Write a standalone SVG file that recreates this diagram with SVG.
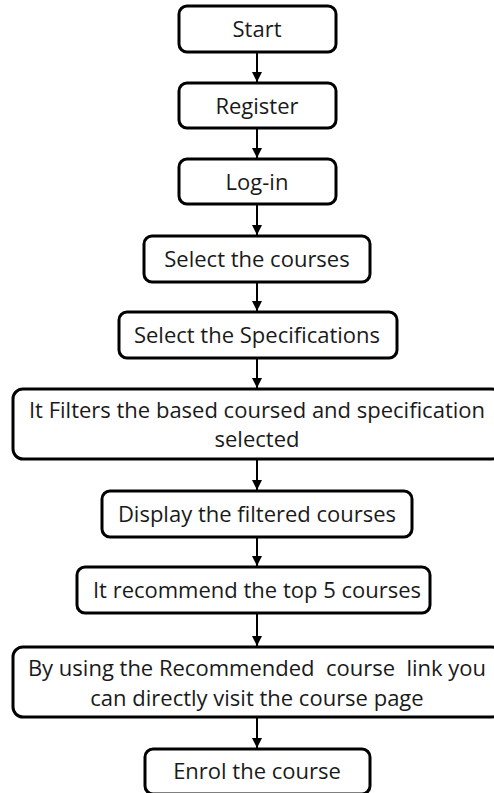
<svg xmlns="http://www.w3.org/2000/svg" width="494" height="793" viewBox="0 0 494 793">
  <style>
    .box { fill: #ffffff; stroke: #000000; stroke-width: 3; }
    .lbl { font-family: "Open Sans", "Noto Sans", "Liberation Sans", sans-serif; font-size: 22px; fill: #1a1a1a; text-anchor: middle; white-space: pre; }
    .flow { stroke: #000000; stroke-width: 2; fill: none; marker-end: url(#head); }
  </style>
  <defs>
    <marker id="head" viewBox="0 0 10 10" refX="10" refY="5" markerWidth="5" markerHeight="5" orient="auto" markerUnits="strokeWidth">
      <path d="M0,0 L10,5 L0,10 z" fill="#000000"/>
    </marker>
  </defs>
  <rect width="494" height="793" fill="#ffffff"/>

  <g id="connectors">
    <line class="flow" x1="257" y1="52" x2="257" y2="82"/>
    <line class="flow" x1="257" y1="128" x2="257" y2="158"/>
    <line class="flow" x1="257" y1="204" x2="257" y2="235"/>
    <line class="flow" x1="257" y1="282" x2="257" y2="311"/>
    <line class="flow" x1="257" y1="358" x2="257" y2="388"/>
    <line class="flow" x1="257" y1="459" x2="257" y2="490"/>
    <line class="flow" x1="257" y1="537" x2="257" y2="566"/>
    <line class="flow" x1="257" y1="613" x2="257" y2="646"/>
    <line class="flow" x1="257" y1="717" x2="257" y2="748"/>
  </g>

  <g id="start">
    <rect class="box" x="179" y="6" width="157" height="46" rx="8"/>
    <text class="lbl" x="257" y="37">Start</text>
  </g>
  <g id="register">
    <rect class="box" x="179" y="83" width="157" height="45" rx="8"/>
    <text class="lbl" x="257" y="114">Register</text>
  </g>
  <g id="login">
    <rect class="box" x="179" y="159" width="157" height="45" rx="8"/>
    <text class="lbl" x="257" y="190">Log-in</text>
  </g>
  <g id="select-courses">
    <rect class="box" x="144" y="236" width="226" height="46" rx="8"/>
    <text class="lbl" x="257" y="267">Select the courses</text>
  </g>
  <g id="select-specs">
    <rect class="box" x="119" y="312" width="278" height="46" rx="8"/>
    <text class="lbl" x="257" y="343">Select the Specifications</text>
  </g>
  <g id="filter">
    <rect class="box" x="13" y="389" width="489" height="70" rx="10"/>
    <text class="lbl" x="257" y="418">It Filters the based coursed and specification</text>
    <text class="lbl" x="257" y="447">selected</text>
  </g>
  <g id="display">
    <rect class="box" x="102" y="491" width="310" height="46" rx="8"/>
    <text class="lbl" x="257" y="522">Display the filtered courses</text>
  </g>
  <g id="recommend">
    <rect class="box" x="77" y="567" width="353" height="46" rx="8"/>
    <text class="lbl" x="257" y="598">It recommend the top 5 courses</text>
  </g>
  <g id="course-link">
    <rect class="box" x="13" y="647" width="489" height="70" rx="10"/>
    <text class="lbl" x="257" y="676">By using the Recommended  course  link you</text>
    <text class="lbl" x="257" y="706">can directly visit the course page</text>
  </g>
  <g id="enrol">
    <rect class="box" x="145" y="749" width="225" height="45" rx="8"/>
    <text class="lbl" x="257" y="779">Enrol the course</text>
  </g>
</svg>
